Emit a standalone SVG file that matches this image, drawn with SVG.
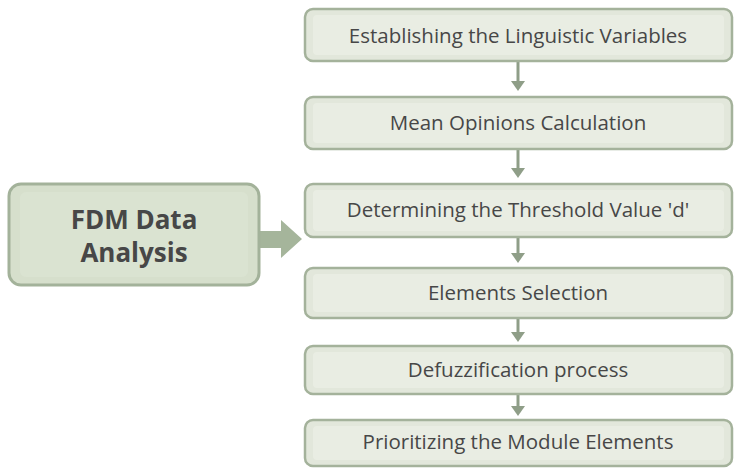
<svg xmlns="http://www.w3.org/2000/svg" width="740" height="475" viewBox="0 0 740 475">
<defs>
<style>
.box{fill:#e2e7db;stroke:#a4b29b;stroke-width:2.5}
.inner{fill:#e9ede3;stroke:none}
.lbl{font-family:"Open Sans","Noto Sans",sans-serif;font-size:20.5px;fill:#474747;text-anchor:middle}
.big{font-family:"Open Sans","Noto Sans",sans-serif;font-size:26px;font-weight:bold;fill:#474747;text-anchor:middle}
.con{stroke:#8f9e88;stroke-width:3;fill:none}
.head{fill:#8f9e88}
</style>
</defs>
<rect width="740" height="475" fill="#ffffff"/>
<g id="connectors">
<path class="con" d="M518 61V82"/><polygon class="head" points="511,81 525,81 518,91"/>
<path class="con" d="M518 149V169"/><polygon class="head" points="511,168 525,168 518,178"/>
<path class="con" d="M518 237V254"/><polygon class="head" points="511,253 525,253 518,263"/>
<path class="con" d="M518 318V333"/><polygon class="head" points="511,332 525,332 518,342"/>
<path class="con" d="M518 394V407"/><polygon class="head" points="511,406 525,406 518,416"/>
<polygon fill="#a5b59b" points="259,231 281,231 281,220 302,239 281,258 281,248 259,248"/>
</g>
<g id="fdm">
<rect x="9" y="184" width="250" height="101" rx="12" fill="#d6dfcc" stroke="#a3b29a" stroke-width="3"/>
<rect x="20" y="192" width="228" height="85" rx="6" fill="#dae3d1"/>
<text class="big" x="134" y="229">FDM Data</text>
<text class="big" x="134" y="262">Analysis</text>
</g>
<g id="n1">
<rect class="box" x="305" y="9" width="427" height="52" rx="8"/>
<rect class="inner" x="313" y="15" width="411" height="40" rx="4"/>
<text class="lbl" x="518" y="43">Establishing the Linguistic Variables</text>
</g>
<g id="n2">
<rect class="box" x="305" y="97" width="427" height="52" rx="8"/>
<rect class="inner" x="313" y="103" width="411" height="40" rx="4"/>
<text class="lbl" x="518" y="130">Mean Opinions Calculation</text>
</g>
<g id="n3">
<rect class="box" x="305" y="184" width="427" height="53" rx="8"/>
<rect class="inner" x="313" y="190" width="411" height="41" rx="4"/>
<text class="lbl" x="518" y="217">Determining the Threshold Value 'd'</text>
</g>
<g id="n4">
<rect class="box" x="305" y="268" width="427" height="50" rx="8"/>
<rect class="inner" x="313" y="274" width="411" height="38" rx="4"/>
<text class="lbl" x="518" y="300">Elements Selection</text>
</g>
<g id="n5">
<rect class="box" x="305" y="346" width="427" height="48" rx="8"/>
<rect class="inner" x="313" y="352" width="411" height="36" rx="4"/>
<text class="lbl" x="518" y="377">Defuzzification process</text>
</g>
<g id="n6">
<rect class="box" x="305" y="420" width="427" height="46" rx="8"/>
<rect class="inner" x="313" y="426" width="411" height="34" rx="4"/>
<text class="lbl" x="518" y="449">Prioritizing the Module Elements</text>
</g>
</svg>
